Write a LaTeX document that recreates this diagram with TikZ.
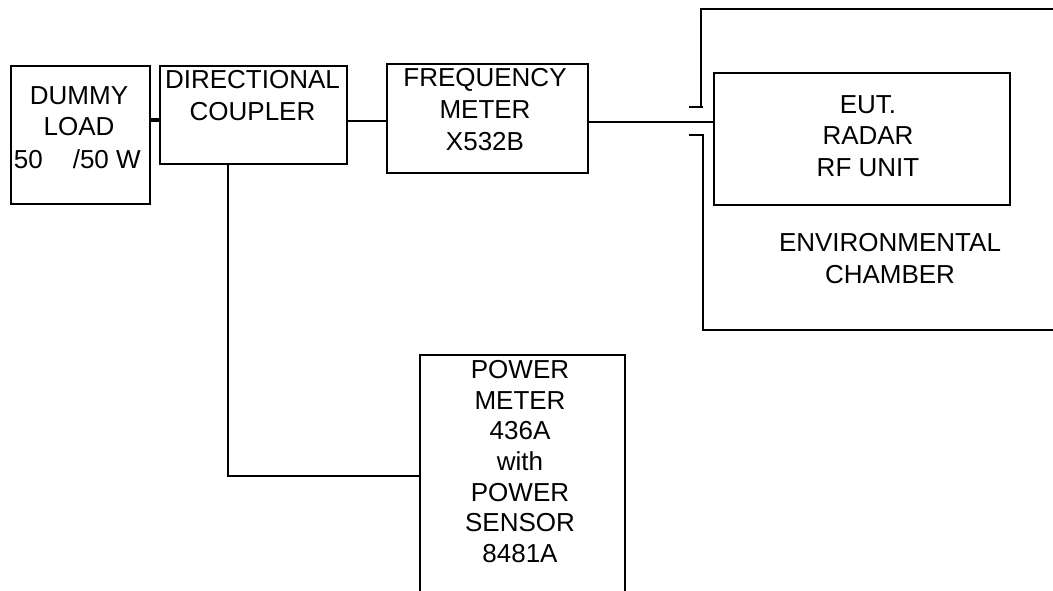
\documentclass[tikz,border=0pt]{standalone}
\usepackage{fontspec}
\setmainfont{Liberation Sans}
\usepackage{tikz}

\begin{document}
\begin{tikzpicture}[x=1pt, y=-1pt, line width=1.8pt,
    unit/.style={draw, inner sep=0pt, anchor=north west},
    label/.style={inner sep=0pt, anchor=north, align=center,
      font=\fontsize{26}{31.8}\selectfont},
    link/.style={line width=1.8pt},
    thicklink/.style={line width=4pt}]
  \clip (0,0) rectangle (1053,591);
  % --- Instrumenter ---
  \node[unit, minimum width=139pt, minimum height=138pt] (dl)   at (10,65)  {};
  \node[unit, minimum width=187pt, minimum height=98pt]  (dc)   at (159,65) {};
  \node[unit, minimum width=201pt, minimum height=109pt] (freq) at (386,63) {};
  \node[unit, minimum width=296pt, minimum height=132pt] (eut)  at (713,72) {};
  \node[unit, minimum width=205pt, minimum height=242pt] (pm)   at (419,354) {};
  % --- Tekster ---
  \node[label] (dltext) at (79,85.4) {DUMMY\\LOAD};
  \node[label, anchor=base west] (dlrate) at (13,168) {50\hspace{30pt}/50 W};
  \node[label] (dctext) at (252.5,69.4) {DIRECTIONAL\\COUPLER};
  \node[label] (fmtext) at (485,67.4) {FREQUENCY\\METER\\X532B};
  \node[label] (euttext) at (868,94.4) {EUT.\\RADAR\\RF UNIT};
  \node[label] (chtext) at (890,232.4) {ENVIRONMENTAL\\CHAMBER};
  \node[label, font=\fontsize{26}{30.7}\selectfont] (pmtext) at (520,359.4)
    {POWER\\METER\\436A\\with\\POWER\\SENSOR\\8481A};
  % --- Kammer ---
  \draw (1060,9) -- (701,9) -- (701,107);
  \draw (689,107) -- (703,107);
  \draw (689,135) -- (703,135) -- (703,330) -- (1060,330);
  % --- Forbindelser ---
  \coordinate (dc in)  at ([yshift=-5pt]dc.west);
  \coordinate (dc out) at ([yshift=-6pt]dc.east);
  \coordinate (fm out) at ([yshift=-3.5pt]freq.east);
  \coordinate (dc tap) at ([xshift=-25.5pt]dc.south);
  \draw[thicklink] (dc in) -- (dc in -| dl.east);
  \draw[link] (dc out) -- (dc out -| freq.west);
  \draw[link] (fm out) -- (fm out -| eut.west);
  \draw[link] (dc tap) |- (pm.west);
\end{tikzpicture}
\end{document}
